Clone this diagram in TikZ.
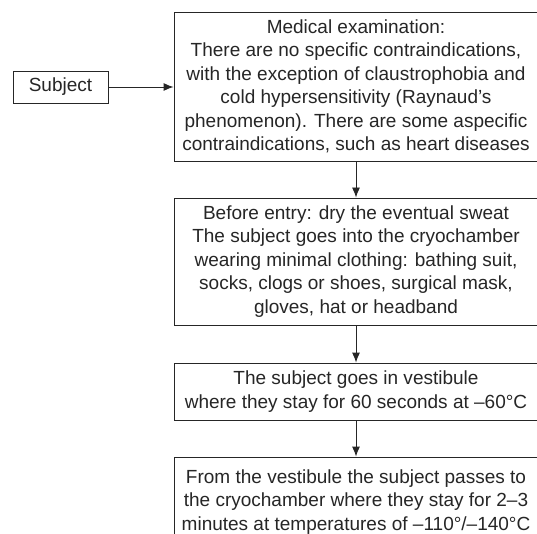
\documentclass[tikz,border=0pt]{standalone}
\usepackage{fontspec}
\setmainfont{Liberation Sans}
\usepackage{tikz}
\usetikzlibrary{arrows.meta,positioning}
\tikzset{stepbox/.style={draw=black!85,line width=0.9pt,rectangle,inner sep=0pt,align=center,
    font=\fontsize{19}{23.5}\selectfont,text=black!85},
  flow/.style={draw=black!85,line width=0.9pt,-{Latex[length=10pt,width=8pt]}}}

\begin{document}
\begin{tikzpicture}[x=1pt,y=-1pt]
    \clip (0,0) rectangle (537,534);
    \fill [white] (0,0) rectangle (537,534);

    \node [stepbox,minimum width=95pt,minimum height=32pt] (subj) at (60.5,87) {Subject};

    \node [stepbox,minimum width=364pt,minimum height=149pt] (exam) at (356,86.5)
        {Medical examination:\\
        There are no specific contraindications,\\
        with the exception of claustrophobia and\\
        cold hypersensitivity (Raynaud’s\\
        phenomenon). There are some aspecific\\
        contraindications, such as heart diseases};

    \node [stepbox,minimum width=364pt,minimum height=127pt] (entry) at (356,261.5)
        {Before entry: dry the eventual sweat\\
        The subject goes into the cryochamber\\
        wearing minimal clothing: bathing suit,\\
        socks, clogs or shoes, surgical mask,\\
        gloves, hat or headband};

    \node [stepbox,minimum width=364pt,minimum height=57pt] (vest) at (356,391.5)
        {The subject goes in vestibule\\
        where they stay for 60 seconds at –60°C};

    \node [stepbox,minimum width=364pt,minimum height=90pt] (cryo) at (356,502)
        {From the vestibule the subject passes to\\
        the cryochamber where they stay for 2–3\\
        minutes at temperatures of –110°/–140°C};

    \draw [flow] (subj) -- (subj -| exam.west);
    \draw [flow] (exam) -- (entry);
    \draw [flow] (entry) -- (vest);
    \draw [flow] (vest) -- (cryo);
\end{tikzpicture}
\end{document}
